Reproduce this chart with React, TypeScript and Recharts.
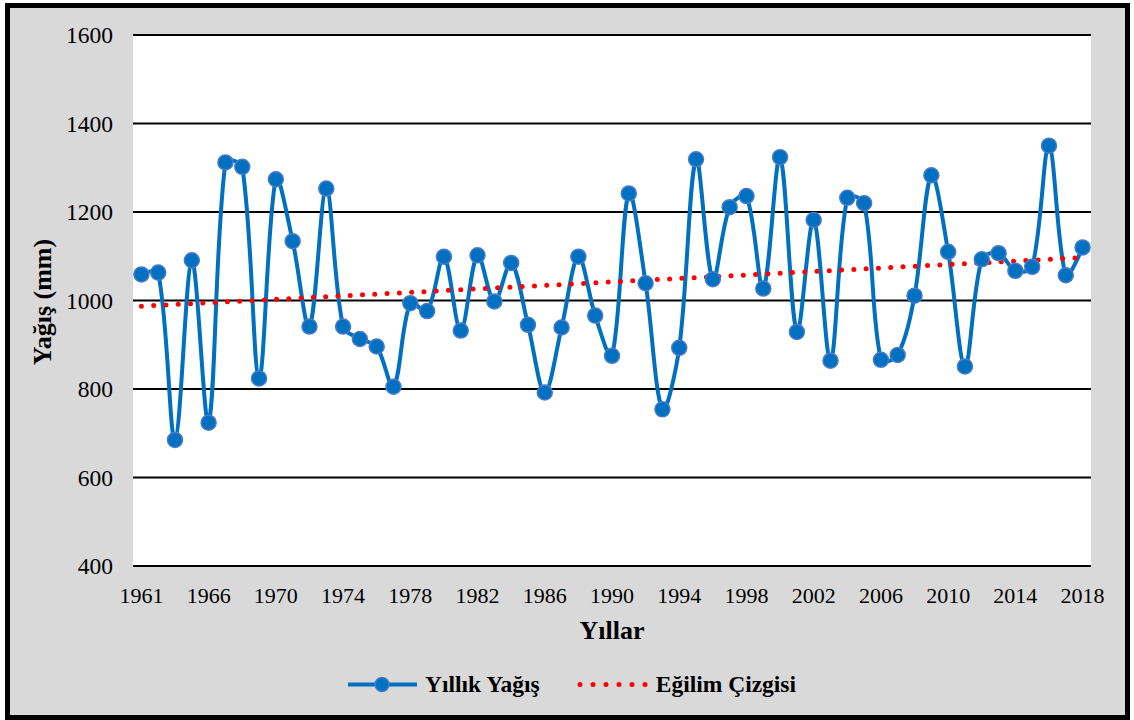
import React from 'react';
import { CartesianGrid, Line, LineChart, XAxis, YAxis } from 'recharts';

const years = [
    '1961', '1962', '1963', '1964', '1966', '1967', '1968', '1969', '1970', '1971',
    '1972', '1973', '1974', '1975', '1976', '1977', '1978', '1979', '1980', '1981',
    '1982', '1983', '1984', '1985', '1986', '1987', '1988', '1989', '1990', '1991',
    '1992', '1993', '1994', '1995', '1996', '1997', '1998', '1999', '2000', '2001',
    '2002', '2003', '2004', '2005', '2006', '2007', '2008', '2009', '2010', '2011',
    '2012', '2013', '2014', '2015', '2016', '2017', '2018'
];

const rainfall = [
    1059, 1063, 685, 1091, 724, 1312, 1302, 824, 1274, 1134,
    941, 1253, 941, 913, 896, 805, 994, 976, 1099, 932,
    1102, 998, 1085, 945, 792, 939, 1099, 966, 875, 1242,
    1039, 754, 893, 1319, 1048, 1211, 1236, 1027, 1324, 929,
    1182, 864, 1232, 1220, 866, 877, 1011, 1283, 1110, 851,
    1093, 1107, 1067, 1076, 1350, 1057, 1120
];

// trend line end points
const trendEnds = [987, 1097];

const yTicks = [400, 600, 800, 1000, 1200, 1400, 1600];

const data = years.map((year, i) => ({
    year,
    value: rainfall[i],
    trend: i === 0 ? trendEnds[0] : i === years.length - 1 ? trendEnds[1] : null
}));

const BLUE = '#0070C0';
const SERIF = '"Liberation Serif", "DejaVu Serif", "Noto Serif", Tinos, serif';

// Excel style smoothed line, tangents weighted by segment length
const excelSmooth = (context: any) => {
    let pts: number[][] = [];
    const dist = (a: number[], b: number[]) => Math.hypot(b[0] - a[0], b[1] - a[1]) || 1e-6;
    return {
        areaStart() {},
        areaEnd() {},
        lineStart() {
            pts = [];
        },
        point(x: number, y: number) {
            pts.push([+x, +y]);
        },
        lineEnd() {
            if (!pts.length) return;
            context.moveTo(pts[0][0], pts[0][1]);
            const f = 1 / 3;
            for (let i = 0; i < pts.length - 1; i++) {
                const p0 = pts[Math.max(i - 1, 0)];
                const p1 = pts[i];
                const p2 = pts[i + 1];
                const p3 = pts[Math.min(i + 2, pts.length - 1)];
                const d01 = dist(p0, p1);
                const d12 = dist(p1, p2);
                const d23 = dist(p2, p3);
                const a = i === 0 ? 0 : (f * d12) / (d01 + d12);
                const b = i + 2 > pts.length - 1 ? 0 : (f * d12) / (d12 + d23);
                context.bezierCurveTo(
                    p1[0] + (p2[0] - p0[0]) * a,
                    p1[1] + (p2[1] - p0[1]) * a,
                    p2[0] - (p3[0] - p1[0]) * b,
                    p2[1] - (p3[1] - p1[1]) * b,
                    p2[0],
                    p2[1]
                );
            }
        }
    };
};

export default function App() {
    return (
        <div style={{ position: 'absolute', left: 0, top: 0, width: 1134, height: 720, background: '#fff' }}>
            <div
                style={{
                    position: 'absolute',
                    left: 5,
                    top: 3,
                    width: 1125,
                    height: 717,
                    boxSizing: 'border-box',
                    border: '5px solid #000',
                    background: '#d9d9d9'
                }}
            />
            <div style={{ position: 'absolute', left: 0, top: 0 }}>
                <LineChart width={1134} height={720} data={data} margin={{ top: 35, right: 43, bottom: 124, left: 73 }}>
                    <CartesianGrid vertical={false} stroke="#000" strokeWidth={2} fill="#fff" fillOpacity={1} />
                    <XAxis
                        dataKey="year"
                        interval={3}
                        height={30}
                        tickLine={false}
                        axisLine={false}
                        tickMargin={15}
                        padding={{ left: 8.4, right: 8.4 }}
                        tick={{ fill: '#000', fontSize: 22, fontFamily: SERIF }}
                    />
                    <YAxis
                        width={60}
                        domain={[400, 1600]}
                        ticks={yTicks}
                        tickLine={false}
                        axisLine={false}
                        tickMargin={14}
                        tick={{ fill: '#000', fontSize: 23.5, fontFamily: SERIF }}
                    />
                    <Line
                        dataKey="value"
                        type={excelSmooth as any}
                        stroke={BLUE}
                        strokeWidth={4}
                        dot={{ r: 7.5, fill: BLUE, stroke: '#4A7BC8', strokeWidth: 1.5 }}
                        isAnimationActive={false}
                    />
                    <Line
                        dataKey="trend"
                        type="linear"
                        connectNulls
                        stroke="#ff0000"
                        strokeWidth={5}
                        strokeDasharray="0 12.3"
                        strokeLinecap="round"
                        dot={false}
                        activeDot={false}
                        isAnimationActive={false}
                    />
                </LineChart>
            </div>

            <div
                style={{
                    position: 'absolute',
                    left: 43,
                    top: 302,
                    transform: 'translate(-50%, -50%) rotate(-90deg)',
                    fontFamily: SERIF,
                    fontWeight: 'bold',
                    fontSize: 26,
                    whiteSpace: 'nowrap'
                }}
            >
                Yağış (mm)
            </div>
            <div
                style={{
                    position: 'absolute',
                    left: 612,
                    top: 631,
                    transform: 'translate(-50%, -50%)',
                    fontFamily: SERIF,
                    fontWeight: 'bold',
                    fontSize: 26,
                    whiteSpace: 'nowrap'
                }}
            >
                Yıllar
            </div>

            <div
                style={{
                    position: 'absolute',
                    left: 347,
                    top: 684,
                    transform: 'translateY(-50%)',
                    display: 'flex',
                    alignItems: 'center',
                    fontFamily: SERIF,
                    fontWeight: 'bold',
                    fontSize: 23.5,
                    whiteSpace: 'nowrap'
                }}
            >
                <svg width={72} height={20} style={{ marginRight: 6 }}>
                    <line x1={1} y1={10} x2={70} y2={10} stroke={BLUE} strokeWidth={4} />
                    <circle cx={35} cy={10} r={7} fill={BLUE} stroke="#4A7BC8" strokeWidth={1.5} />
                </svg>
                <span>Yıllık Yağış</span>
                <svg width={72} height={20} style={{ marginLeft: 36, marginRight: 8 }}>
                    <line
                        x1={4}
                        y1={10}
                        x2={69.5}
                        y2={10}
                        stroke="#ff0000"
                        strokeWidth={5}
                        strokeDasharray="0 13"
                        strokeLinecap="round"
                    />
                </svg>
                <span>Eğilim Çizgisi</span>
            </div>
        </div>
    );
}
